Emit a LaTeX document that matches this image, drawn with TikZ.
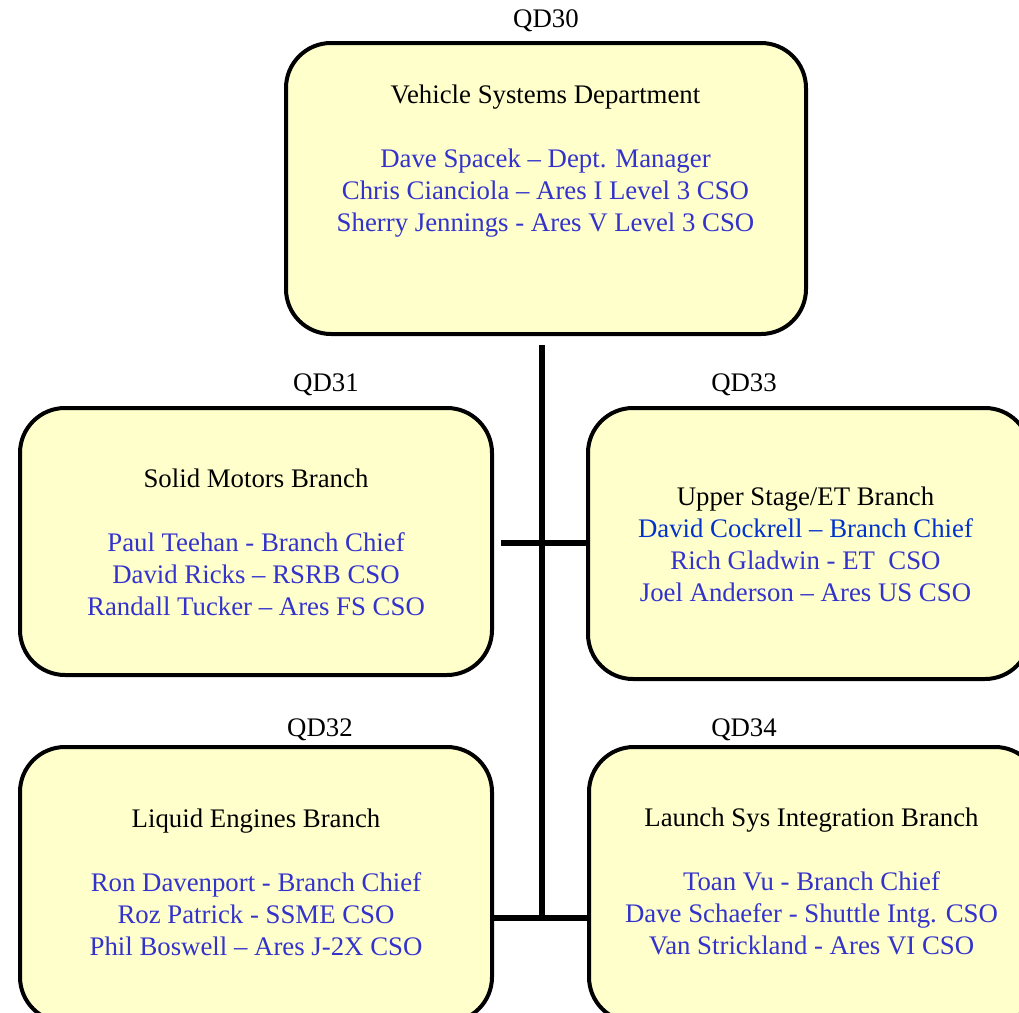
\documentclass[tikz,border=0pt]{standalone}
\usepackage{fontspec}
\setmainfont{Liberation Serif}
\definecolor{boxfill}{HTML}{FFFFCC}
\definecolor{nameblue}{HTML}{3333CC}
\definecolor{chiefblue}{HTML}{0033CC}
\tikzset{
  orgbox/.style={draw=black, line width=2pt, fill=boxfill, rounded corners=22.5pt, inner sep=0pt},
  conn/.style={line width=2.75pt, line cap=butt},
  lbl/.style={font=\fontsize{13.4}{16}\selectfont, anchor=base, inner sep=0pt},
  body/.style={font=\fontsize{13.4}{16}\selectfont, align=center, anchor=north, inner sep=0pt},
}
\begin{document}
\begin{tikzpicture}[x=0.5pt, y=-0.5pt]
\useasboundingbox (0,0) rectangle (1019,1013);
\clip (0,0) rectangle (1019,1013);
% boxes
\node[orgbox, minimum width=260pt, minimum height=145.5pt] (dept) at (546,188.5) {};
\node[orgbox, minimum width=236pt, minimum height=133.5pt] (solid) at (256,541.5) {};
\node[orgbox, minimum width=221pt, minimum height=135.5pt] (upper) at (809,543.5) {};
\node[orgbox, minimum width=236pt, minimum height=137.5pt] (liquid) at (256,884.5) {};
\node[orgbox, minimum width=225.5pt, minimum height=137.5pt] (launch) at (814.5,884.5) {};
% labels
\node[lbl] (qd30) at (546,27) {QD30};
\node[lbl] (qd31) at (326,391) {QD31};
\node[lbl] (qd33) at (744,391) {QD33};
\node[lbl] (qd32) at (320,736) {QD32};
\node[lbl] (qd34) at (744,736) {QD34};
% texts
\node[body] (deptT) at (545.5,80.6) {\strut Vehicle Systems Department\\[16pt]
  \textcolor{nameblue}{Dave Spacek – Dept. Manager}\\
  \textcolor{nameblue}{Chris Cianciola – Ares I Level 3 CSO}\\
  \textcolor{nameblue}{Sherry Jennings - Ares V Level 3 CSO}};
\node[body] (solidT) at (256,464.6) {\strut Solid Motors Branch\\[16pt]
  \textcolor{nameblue}{Paul Teehan - Branch Chief}\\
  \textcolor{nameblue}{David Ricks – RSRB CSO}\\
  \textcolor{nameblue}{Randall Tucker – Ares FS CSO}};
\node[body] (upperT) at (805.5,482.6) {\strut Upper Stage/ET Branch\\
  \textcolor{chiefblue}{David Cockrell – Branch Chief}\\
  \textcolor{nameblue}{Rich Gladwin - ET\ \ CSO}\\
  \textcolor{nameblue}{Joel Anderson – Ares US CSO}};
\node[body] (liquidT) at (256,804.6) {\strut Liquid Engines Branch\\[16pt]
  \textcolor{nameblue}{Ron Davenport - Branch Chief}\\
  \textcolor{nameblue}{Roz Patrick - SSME CSO}\\
  \textcolor{nameblue}{Phil Boswell – Ares J-2X CSO}};
\node[body] (launchT) at (811.5,803.6) {\strut Launch Sys Integration Branch\\[16pt]
  \textcolor{nameblue}{Toan Vu - Branch Chief}\\
  \textcolor{nameblue}{Dave Schaefer - Shuttle Intg. CSO}\\
  \textcolor{nameblue}{Van Strickland - Ares VI CSO}};
% connectors
\coordinate (vtop) at (542,345);
\coordinate (jA) at (542,543);
\coordinate (jB) at (542,918);
\coordinate (hA1) at (501,543);
\coordinate (hA2) at (590,543);
\draw[conn] (vtop) -- (jB);
\draw[conn] (hA1) -- (hA2);
\draw[conn] (liquid.east |- jB) -- (launch.west |- jB);
\end{tikzpicture}
\end{document}
